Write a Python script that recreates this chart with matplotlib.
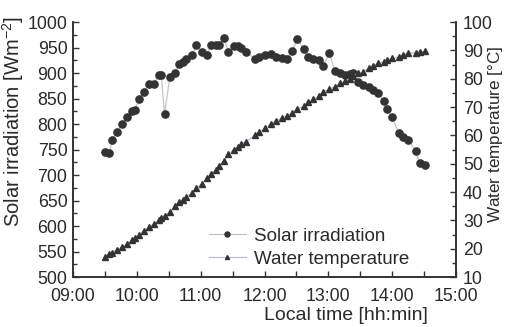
import matplotlib
matplotlib.use('Agg')
import matplotlib.pyplot as plt
from matplotlib.ticker import MultipleLocator, FuncFormatter

plt.rcParams['font.family'] = ['Liberation Sans', 'DejaVu Sans']
plt.rcParams['mathtext.fontset'] = 'custom'
plt.rcParams['mathtext.rm'] = 'Liberation Sans'
plt.rcParams['mathtext.it'] = 'Liberation Sans:italic'

# sampling times (local time)
times = ['09:30', '09:34', '09:37', '09:41', '09:46', '09:51', '09:55', '09:58', '10:02', '10:07',
         '10:11', '10:16', '10:21', '10:23', '10:26', '10:31', '10:36', '10:40', '10:43', '10:46',
         '10:52', '10:56', '11:01', '11:06', '11:10', '11:14', '11:17', '11:22', '11:26', '11:31',
         '11:35', '11:38', '11:43', '11:51', '11:55', '12:00', '12:06', '12:11', '12:16', '12:21',
         '12:26', '12:31', '12:37', '12:41', '12:46', '12:51', '12:55', '13:01', '13:06', '13:11',
         '13:16', '13:20', '13:23', '13:28', '13:33', '13:38', '13:42', '13:47', '13:52', '13:55',
         '14:00', '14:06', '14:10', '14:15', '14:22', '14:26', '14:31']

# solar irradiation [W/m2]
solar = [745, 743, 768, 784, 800, 813, 826, 828, 849, 862,
         878, 878, 897, 897, 819, 892, 900, 918, 922, 928,
         935, 955, 942, 936, 955, 955, 955, 968, 942, 952,
         952, 950, 941, 927, 932, 935, 937, 932, 929, 927,
         943, 966, 947, 931, 927, 925, 913, 939, 904, 900,
         896, 898, 900, 882, 876, 872, 867, 861, 845, 829,
         814, 782, 774, 769, 747, 723, 720]

# water temperature [C]
water = [17.1, 18.1, 18.6, 19.6, 20.5, 21.6, 22.9, 23.8, 24.8, 26.2,
         27.6, 28.7, 30.1, 30.9, 31.6, 32.9, 35.0, 36.4, 37.2, 38.1,
         39.7, 41.4, 42.8, 44.8, 46.4, 47.8, 49.2, 51.0, 53.3, 54.8,
         55.9, 57.0, 57.8, 60.0, 61.1, 62.5, 64.0, 65.0, 66.1, 66.8,
         67.9, 69.3, 70.3, 71.6, 72.7, 73.9, 75.4, 76.2, 77.2, 78.3,
         79.1, 79.9, 80.8, 81.9, 82.4, 83.8, 84.5, 85.5, 85.9, 86.5,
         87.2, 87.6, 88.4, 88.9, 89.2, 89.4, 89.6]

hours = [int(t[:2]) + int(t[3:]) / 60.0 for t in times]

txt = '#2a2a2a'
fig = plt.figure(figsize=(5.06, 3.27), dpi=100)
ax = fig.add_axes([0.1443, 0.1529, 0.7569, 0.7798])
ax2 = ax.twinx()

l1, = ax.plot(hours, solar, '-', color='#c4c4c4', lw=0.9, marker='o', ms=5.2,
              mfc='#333333', mec='#333333', label='Solar irradiation')
l2, = ax2.plot(hours, water, '-', color='#b9bdd2', lw=0.9, marker='^', ms=4.2,
               mfc='#333333', mec='#333333', label='Water temperature')

ax.set_xlim(9, 15)
ax.set_ylim(500, 1000)
ax2.set_ylim(10, 100)

ax.xaxis.set_major_locator(MultipleLocator(1))
ax.xaxis.set_minor_locator(MultipleLocator(0.5))
ax.xaxis.set_major_formatter(FuncFormatter(lambda v, p: '%02d:00' % int(round(v))))
ax.yaxis.set_major_locator(MultipleLocator(50))
ax.yaxis.set_minor_locator(MultipleLocator(25))
ax2.yaxis.set_major_locator(MultipleLocator(10))
ax2.yaxis.set_minor_locator(MultipleLocator(5))

for a in (ax, ax2):
    a.spines['top'].set_visible(False)
    for s in a.spines.values():
        s.set_color('#333333')
        s.set_linewidth(1.2)
    a.tick_params(which='both', direction='in', color='#333333', width=1.0,
                  labelsize=12.8, labelcolor=txt, pad=4)
    a.tick_params(which='major', length=4)
    a.tick_params(which='minor', length=3)
ax.tick_params(axis='x', which='both', length=4, pad=8)
ax2.tick_params(axis='y', which='both', pad=5)

ax.set_xlabel('Local time [hh:min]', fontsize=14, color=txt)
ax.set_ylabel('Solar irradiation [Wm$^{-2}$]', fontsize=14.5, color=txt)
ax2.set_ylabel('Water temperature [$\\degree$C]', fontsize=12.3, color=txt)
# label anchors: x label top edge, left label right edge, right label left edge
ax.xaxis.set_label_coords(0.713, -0.116)
ax.yaxis.set_label_coords(-0.122, 0.61)
ax2.yaxis.set_label_coords(1.078, 0.56)

ax.legend([l1, l2], ['Solar irradiation', 'Water temperature'], loc='lower left',
          bbox_to_anchor=(0.31, -0.03), frameon=False, fontsize=13.5,
          handlelength=2.0, handletextpad=0.4, labelspacing=0.3, markerscale=0.7,
          labelcolor=txt)

fig.savefig('out.png', dpi=100)
